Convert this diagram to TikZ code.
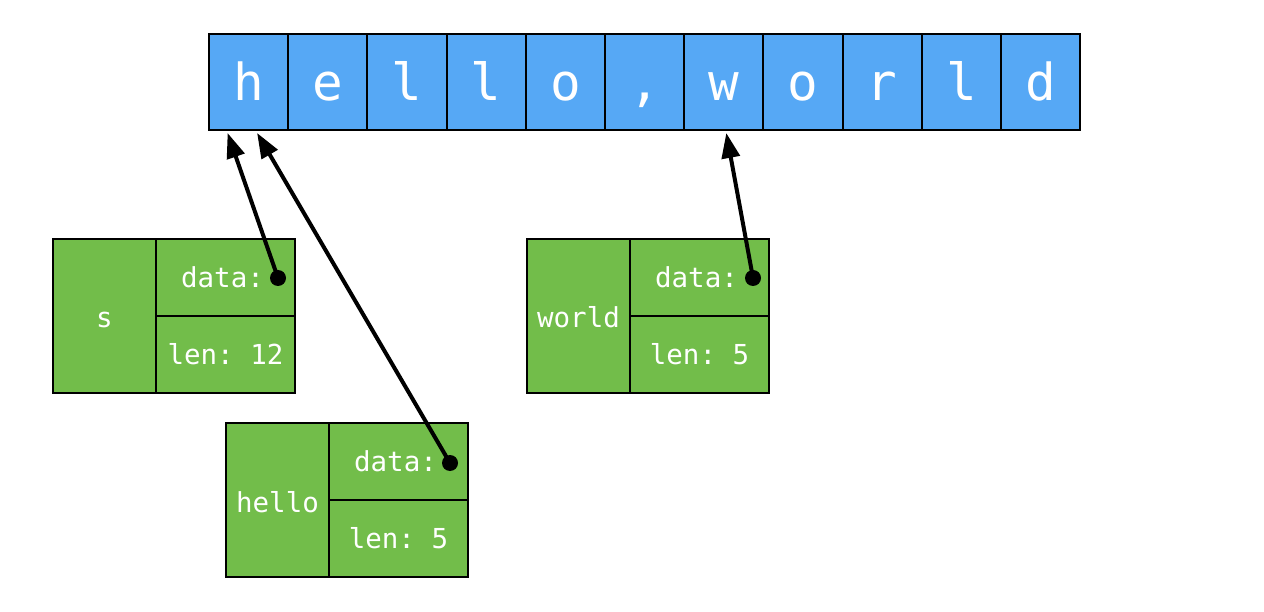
\documentclass[tikz,border=0pt]{standalone}
\usepackage{fontspec}
\setmonofont{DejaVu Sans Mono}
\usetikzlibrary{arrows.meta,calc}
\definecolor{cellblue}{RGB}{86,168,245}
\definecolor{boxgreen}{RGB}{114,189,74}
\begin{document}
\begin{tikzpicture}[x=1pt,y=-1pt,
  cell/.style={draw=black, line width=2pt, fill=cellblue, minimum width=79.2pt, minimum height=96pt, inner sep=0pt, text=white, text height=37pt, text depth=0pt, font=\ttfamily\fontsize{51}{51}\selectfont},
  gbox/.style={draw=black, line width=2pt, fill=boxgreen, inner sep=0pt, text=white, text depth=0pt, font=\ttfamily\fontsize{27.5}{27.5}\selectfont},
  sidebox/.style={gbox, text height=24pt, minimum width=103pt, minimum height=154pt},
  fieldbox/.style={gbox, text height=20pt, minimum width=139pt, minimum height=77pt},
  dotnode/.style={circle, fill=black, minimum size=16pt, inner sep=0pt},
  ptr/.style={line width=4pt, -{Triangle[length=25pt,width=18pt]}}
]
\useasboundingbox (0,0) rectangle (1264,612);
% string cells
\foreach \ch [count=\i from 0] in {h,e,l,l,o,{,},w,o,r,l,d}{
  \node[cell] (c\i) at ({209+79.2*(\i+0.5)},82) {\ch};
}
% s
\node[sidebox] (sname) at (104.5,316) {s};
\node[fieldbox] (sdata) at (225.5,277.5) {\hspace*{-6pt}data:};
\node[fieldbox] (slen) at (225.5,354.5) {len: 12};
\node[dotnode] (sdot) at (278,278) {};
% hello
\node[sidebox] (hname) at (277.5,500) {hello};
\node[fieldbox] (hdata) at (398.5,461.5) {\hspace*{-6pt}data:};
\node[fieldbox] (hlen) at (398.5,538.5) {len: 5};
\node[dotnode] (hdot) at (450,463) {};
% world
\node[sidebox] (wname) at (578.5,316) {world};
\node[fieldbox] (wdata) at (699.5,277.5) {\hspace*{-6pt}data:};
\node[fieldbox] (wlen) at (699.5,354.5) {len: 5};
\node[dotnode] (wdot) at (753,278) {};
% pointers
\coordinate (stip) at ($(c0.south)+(-21,2)$);
\coordinate (htip) at ($(c0.south)+(8.5,2)$);
\coordinate (wtip) at ($(c6.south)+(2.5,2)$);
\draw[ptr] (sdot.center) -- (stip);
\draw[ptr] (hdot.center) -- (htip);
\draw[ptr] (wdot.center) -- (wtip);
\end{tikzpicture}
\end{document}
